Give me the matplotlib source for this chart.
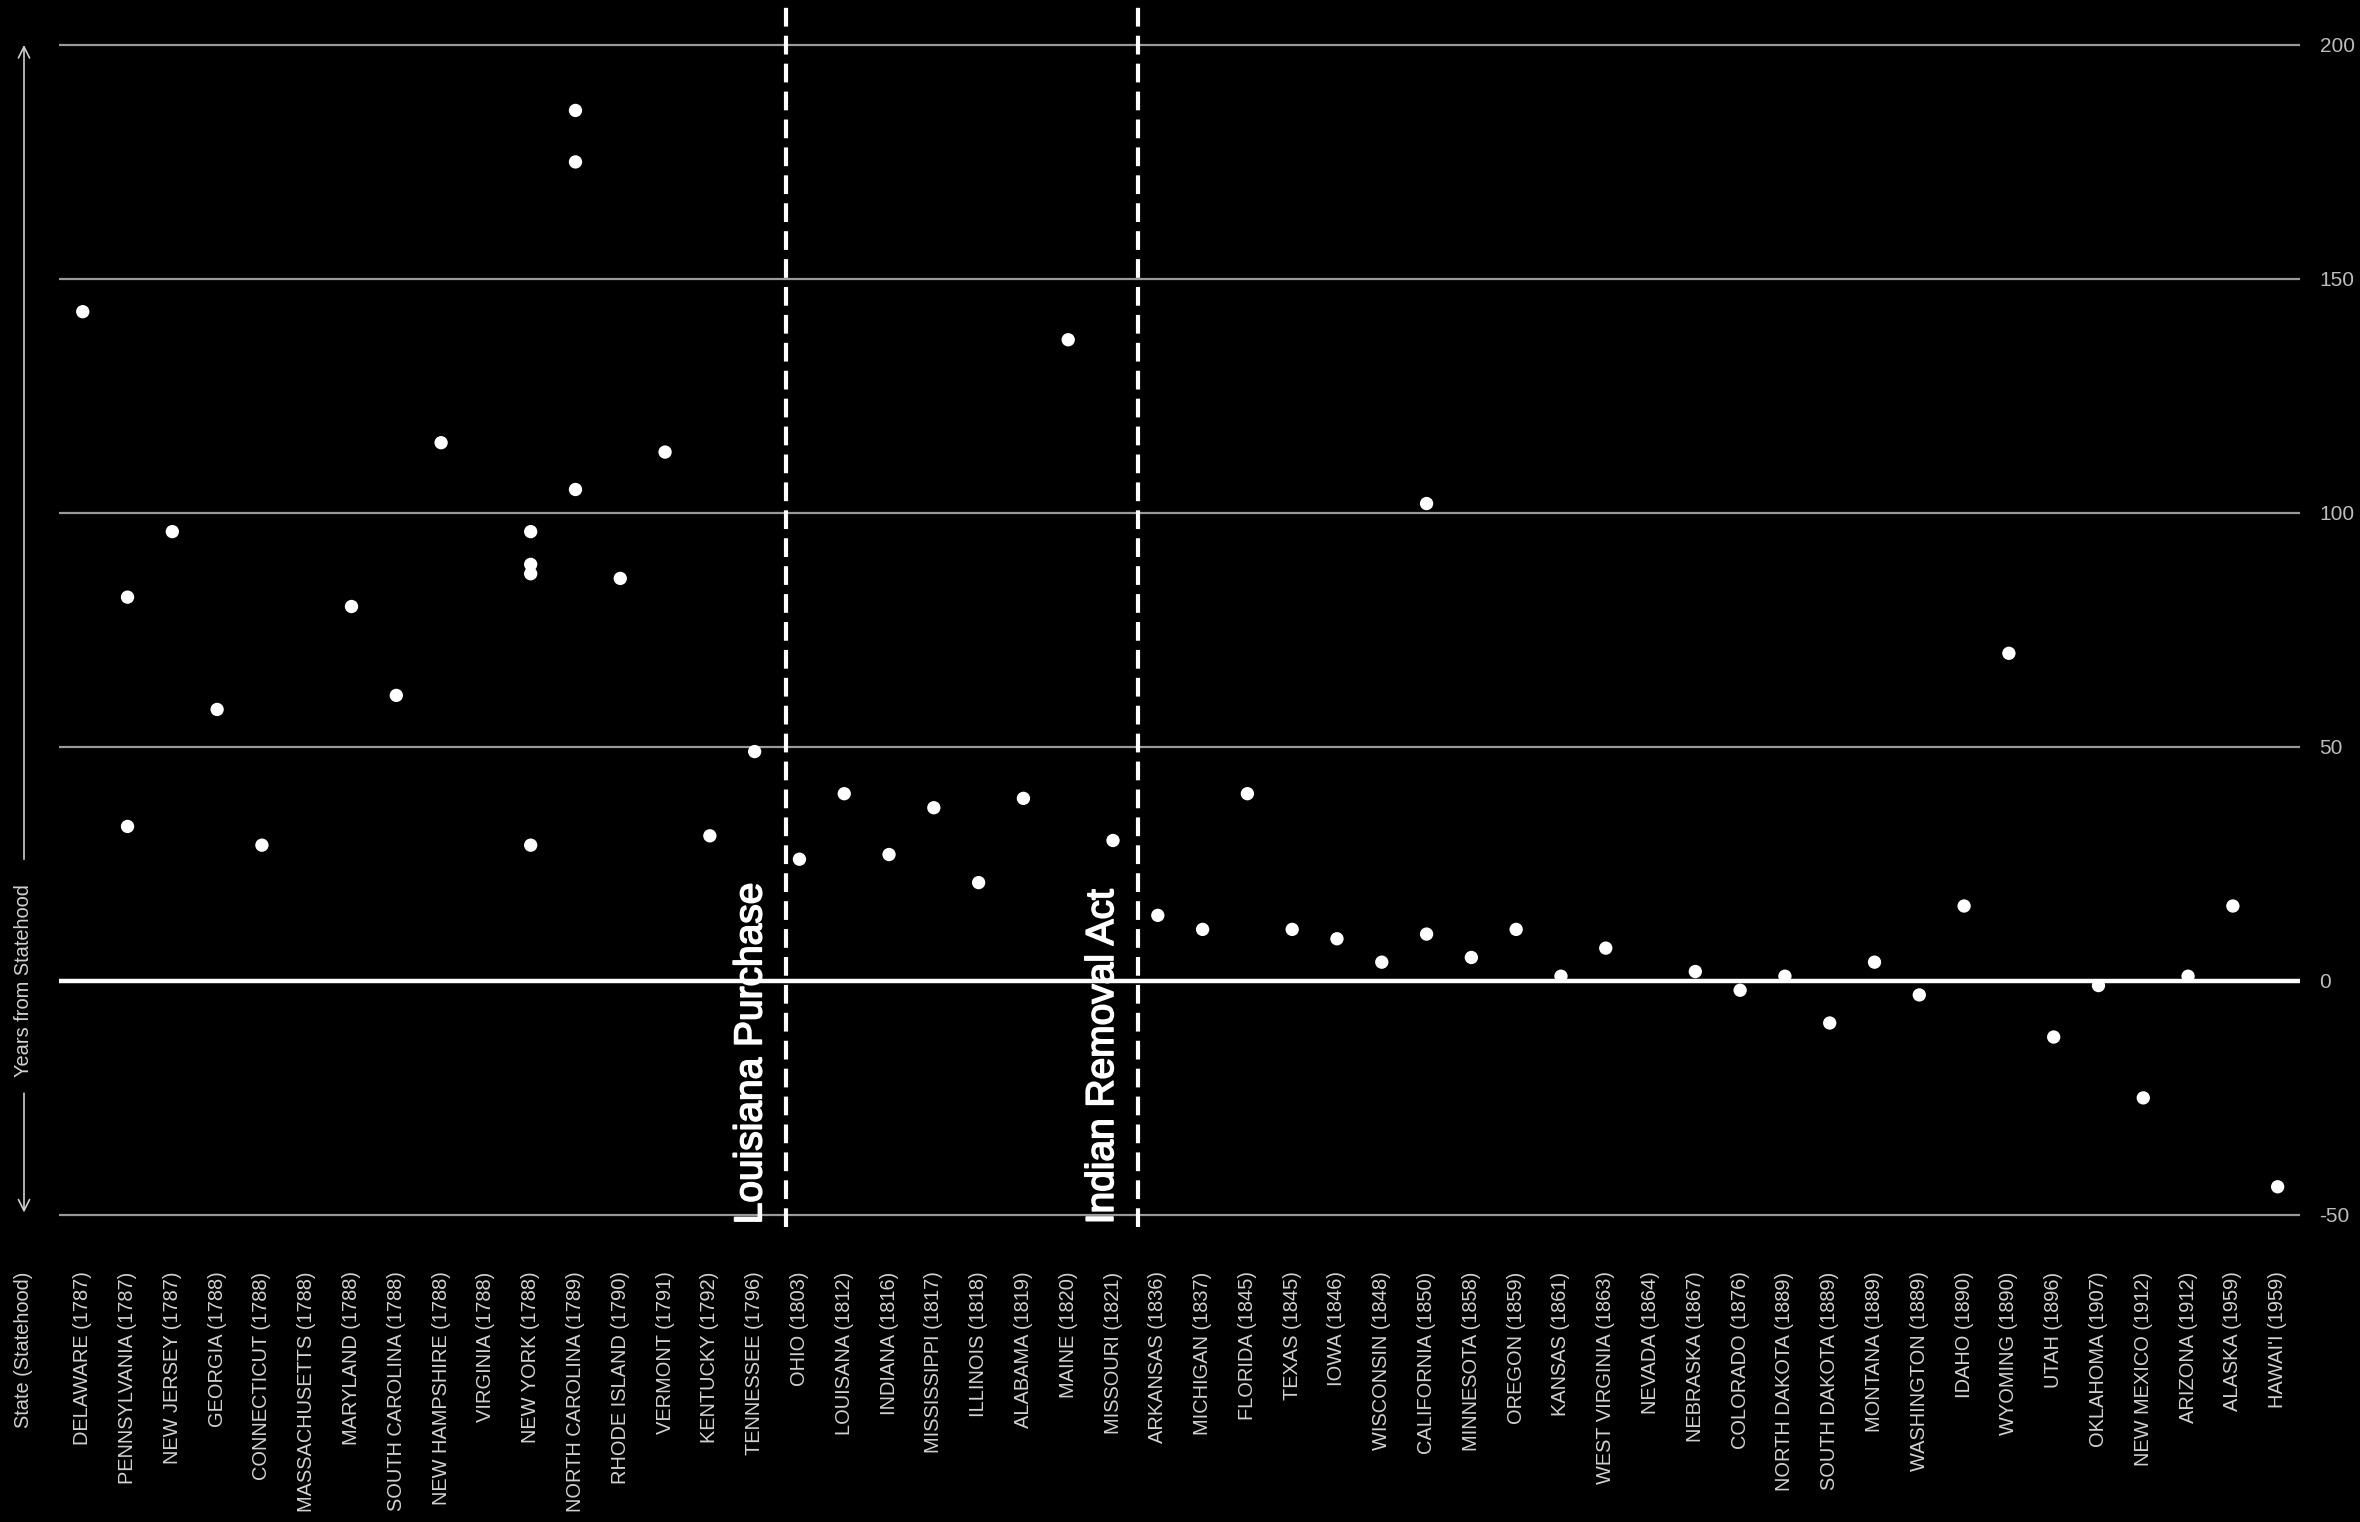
import matplotlib
matplotlib.use("Agg")
import matplotlib.pyplot as plt
import matplotlib.transforms as mtransforms
import matplotlib.patheffects as pe

plt.rcParams['font.family'] = ['Liberation Sans', 'DejaVu Sans']

# states in order of statehood, with the year in the label
states = ["DELAWARE (1787)", "PENNSYLVANIA (1787)", "NEW JERSEY (1787)", "GEORGIA (1788)",
          "CONNECTICUT (1788)", "MASSACHUSETTS (1788)", "MARYLAND (1788)", "SOUTH CAROLINA (1788)",
          "NEW HAMPSHIRE (1788)", "VIRGINIA (1788)", "NEW YORK (1788)", "NORTH CAROLINA (1789)",
          "RHODE ISLAND (1790)", "VERMONT (1791)", "KENTUCKY (1792)", "TENNESSEE (1796)",
          "OHIO (1803)", "LOUISANA (1812)", "INDIANA (1816)", "MISSISSIPPI (1817)",
          "ILLINOIS (1818)", "ALABAMA (1819)", "MAINE (1820)", "MISSOURI (1821)",
          "ARKANSAS (1836)", "MICHIGAN (1837)", "FLORIDA (1845)", "TEXAS (1845)",
          "IOWA (1846)", "WISCONSIN (1848)", "CALIFORNIA (1850)", "MINNESOTA (1858)",
          "OREGON (1859)", "KANSAS (1861)", "WEST VIRGINIA (1863)", "NEVADA (1864)",
          "NEBRASKA (1867)", "COLORADO (1876)", "NORTH DAKOTA (1889)", "SOUTH DAKOTA (1889)",
          "MONTANA (1889)", "WASHINGTON (1889)", "IDAHO (1890)", "WYOMING (1890)",
          "UTAH (1896)", "OKLAHOMA (1907)", "NEW MEXICO (1912)", "ARIZONA (1912)",
          "ALASKA (1959)", "HAWAI'I (1959)"]

# years from statehood for each point (a state can have several, or none)
years = {
    "DELAWARE (1787)": [143],
    "PENNSYLVANIA (1787)": [82, 33],
    "NEW JERSEY (1787)": [96],
    "GEORGIA (1788)": [58],
    "CONNECTICUT (1788)": [29],
    "MARYLAND (1788)": [80],
    "SOUTH CAROLINA (1788)": [61],
    "NEW HAMPSHIRE (1788)": [115],
    "NEW YORK (1788)": [96, 89, 87, 29],
    "NORTH CAROLINA (1789)": [186, 175, 105],
    "RHODE ISLAND (1790)": [86],
    "VERMONT (1791)": [113],
    "KENTUCKY (1792)": [31],
    "TENNESSEE (1796)": [49],
    "OHIO (1803)": [26],
    "LOUISANA (1812)": [40],
    "INDIANA (1816)": [27],
    "MISSISSIPPI (1817)": [37],
    "ILLINOIS (1818)": [21],
    "ALABAMA (1819)": [39],
    "MAINE (1820)": [137],
    "MISSOURI (1821)": [30],
    "ARKANSAS (1836)": [14],
    "MICHIGAN (1837)": [11],
    "FLORIDA (1845)": [40],
    "TEXAS (1845)": [11],
    "IOWA (1846)": [9],
    "WISCONSIN (1848)": [4],
    "CALIFORNIA (1850)": [102, 10],
    "MINNESOTA (1858)": [5],
    "OREGON (1859)": [11],
    "KANSAS (1861)": [1],
    "WEST VIRGINIA (1863)": [7],
    "NEBRASKA (1867)": [2],
    "COLORADO (1876)": [-2],
    "NORTH DAKOTA (1889)": [1],
    "SOUTH DAKOTA (1889)": [-9],
    "MONTANA (1889)": [4],
    "WASHINGTON (1889)": [-3],
    "IDAHO (1890)": [16],
    "WYOMING (1890)": [70],
    "UTAH (1896)": [-12],
    "OKLAHOMA (1907)": [-1],
    "NEW MEXICO (1912)": [-25],
    "ARIZONA (1912)": [1],
    "ALASKA (1959)": [16],
    "HAWAI'I (1959)": [-44],
}

y_ticks = [-50, 0, 50, 100, 150, 200]

# events marked with dashed lines (position on the state axis)
events = ["Louisiana Purchase", "Indian Removal Act"]
event_pos = [15.7, 23.55]

xs, ys = [], []
for i, s in enumerate(states):
    for v in years.get(s, []):
        xs.append(i)
        ys.append(v)

fig = plt.figure(figsize=(11.8, 7.61), dpi=200, facecolor='black')
ax = fig.add_axes([0.025, 0.1938, 0.9496, 0.8062])
ax.set_facecolor('black')

ax.set_xlim(-0.53, 49.5)
ax.set_ylim(-52.6, 209.6)

# horizontal grid
for t in y_ticks:
    if t == 0:
        ax.axhline(t, color='white', lw=1.6, zorder=2)
    else:
        ax.axhline(t, color='#9a9a9a', lw=0.8, zorder=1)

# event lines + labels
for name, p in zip(events, event_pos):
    ax.axvline(p, color='white', lw=1.5, ls=(0, (4.5, 2.2)), zorder=3)
    ax.annotate(name, xy=(p, 0), xycoords=('data', 'axes fraction'),
                xytext=(-6, 1), textcoords='offset points',
                rotation=90, ha='right', va='bottom', color='white',
                fontsize=14, path_effects=[pe.withStroke(linewidth=0.6, foreground='white')])

ax.scatter(xs, ys, s=23, c='white', edgecolors='none', zorder=4)

for sp in ax.spines.values():
    sp.set_visible(False)

ax.set_xticks(range(len(states)))
ax.set_xticklabels(states, rotation=90, fontsize=7.2, color='#d2d2d2')
ax.tick_params(axis='x', length=0, pad=16)

ax.yaxis.tick_right()
ax.set_yticks(y_ticks)
ax.set_yticklabels([str(t) for t in y_ticks], fontsize=7.5, color='#bdbdbd')
ax.tick_params(axis='y', length=0, pad=7)

# axis titles on the left
fig.text(24 / 2360, 1 - 1272 / 1522, "State (Statehood)", rotation=90,
         ha='center', va='top', fontsize=7.2, color='#d2d2d2')

blend = mtransforms.blended_transform_factory(fig.transFigure, ax.transData)
xl = 24 / 2360
ax.text(xl, 0, "Years from Statehood", transform=blend, rotation=90,
        ha='center', va='center', fontsize=7.2, color='#d2d2d2')
arrow = dict(arrowstyle='->', color='#cfcfcf', lw=0.6, shrinkA=0, shrinkB=0)
ax.annotate('', xy=(xl, 200), xytext=(xl, 26), xycoords=blend, textcoords=blend,
            arrowprops=arrow, annotation_clip=False)
ax.annotate('', xy=(xl, -49.5), xytext=(xl, -24), xycoords=blend, textcoords=blend,
            arrowprops=arrow, annotation_clip=False)

fig.savefig("out.png", dpi=200, facecolor='black')
